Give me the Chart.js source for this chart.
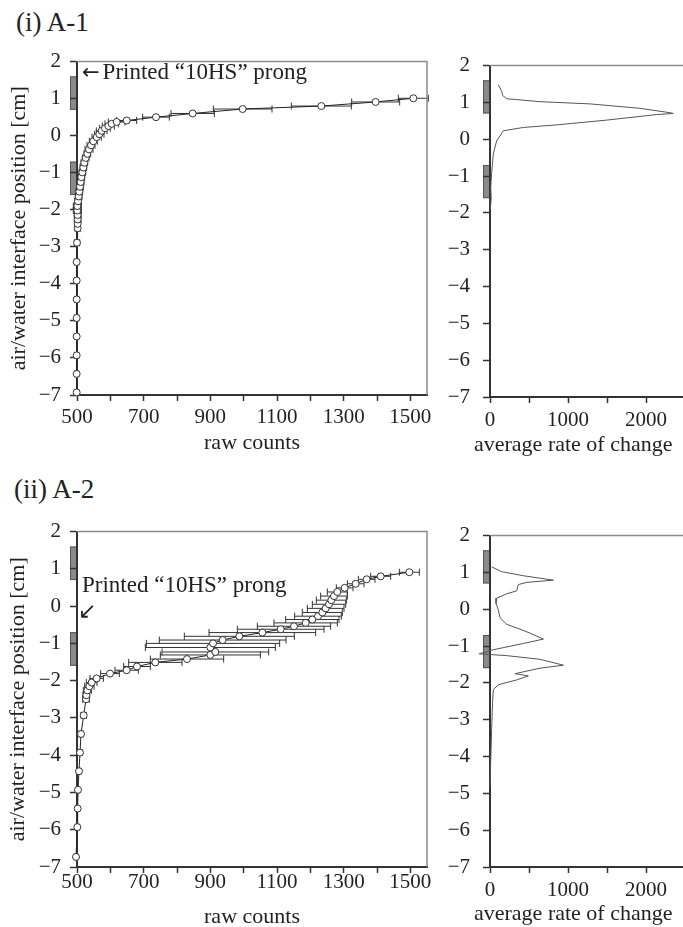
<!DOCTYPE html>
<html>
<head>
<meta charset="utf-8">
<script src="https://cdn.jsdelivr.net/npm/chart.js@4.4.1/dist/chart.umd.min.js"></script>
<style>
  html, body { margin: 0; padding: 0; background: #fff; }
  body { position: relative; width: 683px; height: 927px; overflow: hidden; font-family: 'Liberation Serif', 'Times New Roman', serif; color: #222; }
  canvas { position: absolute; }
  .lbl { position: absolute; white-space: nowrap; line-height: 1; z-index: 2; }
  .arr { font-family: 'DejaVu Sans', sans-serif; font-size: 21px; }
</style>
</head>
<body>
<canvas id="a1" width="440" height="430" style="left:0;top:40px"></canvas>
<canvas id="a1r" width="260" height="430" style="left:440px;top:40px"></canvas>
<canvas id="a2" width="440" height="430" style="left:0;top:510px"></canvas>
<canvas id="a2r" width="260" height="430" style="left:440px;top:510px"></canvas>

<div class="lbl" style="left:16px;top:9px;font-size:27px">(i) A-1</div>
<div class="lbl" style="left:82px;top:60px;font-size:23px"><span class="arr" style="margin-right:3px">←</span>Printed “10HS” prong</div>
<div class="lbl" style="left:474px;top:433px;font-size:22px">average rate of change</div>
<div class="lbl" style="left:14px;top:476px;font-size:27px">(ii) A-2</div>
<div class="lbl" style="left:82px;top:573px;font-size:23px">Printed “10HS” prong</div>
<div class="lbl arr" style="left:78px;top:600px;font-size:22px">↙</div>
<div class="lbl" style="left:474px;top:902px;font-size:22px">average rate of change</div>

<script>
const FONT = "'Liberation Serif', 'Times New Roman', serif";

// (i) A-1 : raw counts vs air/water interface position
const a1Pos = [-6.93, -6.43, -5.93, -5.42, -4.92, -4.42, -3.91, -3.41, -2.89,
  -2.50, -2.38, -2.26, -2.14, -2.02, -1.90,
  -1.77, -1.64, -1.51, -1.38, -1.25, -1.12, -0.99,
  -0.86, -0.73, -0.60, -0.49, -0.37, -0.26, -0.15, -0.04,
  0.04, 0.13, 0.20, 0.26, 0.32, 0.37, 0.41,
  0.50, 0.60, 0.72, 0.80, 0.91, 1.01];
const a1Counts = [499, 499, 499, 499, 499, 499, 499, 499, 500,
  502, 502, 502, 502, 501, 501,
  503, 505, 507, 509, 511, 513, 516,
  519, 522, 526, 531, 536, 542, 549, 559,
  567, 574, 584, 594, 604, 619, 649,
  737, 847, 997, 1233, 1396, 1509];
const a1Err = [6, 6, 6, 6, 6, 6, 6, 6, 8,
  8, 8, 10, 10, 12, 12,
  10, 10, 10, 10, 10, 10, 10,
  10, 10, 10, 10, 12, 12, 12, 14,
  14, 16, 16, 18, 20, 25, 30,
  40, 65, 88, 90, 72, 45];

// (i) A-1 : average rate of change
const a1RatePos = [1.48, 1.30, 1.19, 1.10, 1.02, 0.96, 0.84, 0.72, 0.70, 0.67, 0.52, 0.39, 0.32, 0.23, 0.09, -0.04, -0.39, -0.91, -1.30, -1.60, -1.90];
const a1Rate = [107, 150, 162, 214, 641, 1282, 1923, 2308, 2350, 2137, 1496, 855, 427, 171, 128, 86, 43, 21, 10, 15, 5];

// (ii) A-2 : raw counts vs air/water interface position
const a2Pos = [-6.73, -5.93, -5.43, -4.93, -4.43, -3.93, -3.43, -2.93,
  -2.50, -2.39, -2.26, -2.15, -2.05, -1.94, -1.81, -1.72, -1.62,
  -1.51, -1.42, -1.31, -1.23, -1.11, -1.00, -0.91, -0.81,
  -0.71, -0.62, -0.54, -0.45, -0.36, -0.27, -0.17, -0.06,
  0.05, 0.16, 0.27, 0.38, 0.49, 0.60, 0.72, 0.80, 0.91];
const a2Counts = [497, 501, 502, 503, 506, 509, 512, 520,
  527, 528, 531, 537, 544, 559, 599, 649, 680,
  735, 830, 900, 915, 900, 908, 937, 987,
  1056, 1111, 1151, 1186, 1206, 1223, 1236, 1246,
  1256, 1263, 1271, 1281, 1303, 1336, 1369, 1411, 1497];
const a2Err = [5, 5, 5, 5, 6, 6, 6, 8,
  10, 10, 12, 14, 16, 20, 28, 35, 40,
  80, 110, 150, 160, 195, 200, 190, 165,
  160, 130, 110, 95, 80, 70, 60, 55,
  50, 45, 40, 30, 25, 25, 25, 30, 30];

// (ii) A-2 : average rate of change
const a2RatePos = [1.15, 1.02, 0.91, 0.79, 0.73, 0.67, 0.50, 0.42, 0.30, 0.16, -0.02, -0.23, -0.41, -0.54, -0.65, -0.81, -0.93, -1.10, -1.21, -1.26, -1.36, -1.52, -1.60, -1.75, -1.81, -1.92, -2.05, -2.18, -2.49, -3.26, -4.82];
const a2Rate = [22, 150, 428, 813, 472, 363, 342, 214, 86, 77, 107, 128, 214, 385, 514, 685, 428, 43, -137, 214, 642, 941, 642, 321, 492, 342, 107, 43, 34, 21, 0];

// prong positions (grey blocks along the y axis)
const prongLow = [0.7, -1.6];
const prongHigh = [1.6, -0.7];

// tick labels
const posTicks = [-7, -6, -5, -4, -3, -2, -1, 0, 1, 2];
const countTickLabels = [500, 700, 900, 1100, 1300, 1500];
const rateTickLabels = [0, 1000, 2000];

function fmt(v) {
  return v < 0 ? '\u2212' + Math.abs(v) : String(v);
}

const framePlugin = {
  id: 'frame',
  beforeDraw(chart) {
    const {ctx, chartArea: a, scales: {y}} = chart;
    ctx.save();
    ctx.fillStyle = '#8a8a8a';
    ctx.strokeStyle = '#555';
    ctx.lineWidth = 1;
    for (let i = 0; i < prongLow.length; i++) {
      const t = y.getPixelForValue(prongHigh[i]);
      const b = y.getPixelForValue(prongLow[i]);
      ctx.fillRect(a.left - 7, t, 7, b - t);
      ctx.strokeRect(a.left - 7 + 0.5, t + 0.5, 6, b - t - 1);
    }
    ctx.restore();
  },
  beforeDatasetsDraw(chart) {
    const {ctx, scales: {x, y}} = chart;
    ctx.save();
    ctx.strokeStyle = '#333';
    ctx.lineWidth = 1;
    chart.data.datasets.forEach(ds => {
      if (!ds.errors) return;
      ds.data.forEach((p, i) => {
        const e = ds.errors[i];
        const x0 = x.getPixelForValue(p.x - e);
        const x1 = x.getPixelForValue(p.x + e);
        const yy = y.getPixelForValue(p.y);
        ctx.beginPath();
        ctx.moveTo(x0, yy); ctx.lineTo(x1, yy);
        ctx.moveTo(x0, yy - 3.5); ctx.lineTo(x0, yy + 3.5);
        ctx.moveTo(x1, yy - 3.5); ctx.lineTo(x1, yy + 3.5);
        ctx.stroke();
      });
    });
    ctx.restore();
  },
  afterDraw(chart) {
    const {ctx, chartArea: a} = chart;
    ctx.save();
    ctx.strokeStyle = '#8c8c8c';
    ctx.lineWidth = 1.5;
    ctx.beginPath();
    ctx.moveTo(a.left, a.top);
    ctx.lineTo(a.right, a.top);
    ctx.lineTo(a.right, a.bottom);
    ctx.stroke();
    ctx.restore();
  }
};

function yScale(width, pad, titlePad) {
  return {
    type: 'linear',
    min: -7,
    max: 2,
    afterBuildTicks: s => { s.ticks = posTicks.map(v => ({value: v})); },
    ticks: {
      padding: pad,
      color: '#222',
      font: {family: FONT, size: 21},
      callback: v => fmt(v)
    },
    grid: {drawOnChartArea: false, drawTicks: true, tickLength: 7, color: '#333', tickWidth: 1.5},
    border: {color: '#333', width: 2},
    title: titlePad == null ? {display: false} : {
      display: true,
      text: 'air/water interface position [cm]',
      color: '#222',
      font: {family: FONT, size: 22},
      padding: {top: titlePad, bottom: 0}
    },
    afterFit: s => { s.width = width; }
  };
}

function xScale(kind, height, labelPad, titlePad) {
  const raw = kind === 'raw';
  const labels = raw ? countTickLabels : rateTickLabels;
  return {
    type: 'linear',
    min: raw ? 500 : 0,
    max: raw ? 1550 : 2500,
    ticks: {
      stepSize: raw ? 100 : 500,
      includeBounds: false,
      autoSkip: false,
      maxRotation: 0,
      padding: labelPad,
      color: '#222',
      font: {family: FONT, size: 21},
      callback: v => labels.includes(v) ? String(v) : ''
    },
    grid: {drawOnChartArea: false, drawTicks: true, tickLength: 6, color: '#333', tickWidth: 1.5},
    border: {color: '#333', width: 2},
    // the rate panels get their title as page text, centred like the original
    title: raw ? {
      display: true,
      text: 'raw counts',
      color: '#222',
      font: {family: FONT, size: 22},
      padding: {top: 0, bottom: titlePad}
    } : {display: false},
    afterFit: s => { s.height = height; }
  };
}

function makeChart(id, dataset, padding, x, y) {
  return new Chart(document.getElementById(id), {
    type: 'scatter',
    data: {datasets: [dataset]},
    options: {
      responsive: false,
      animation: false,
      devicePixelRatio: 1,
      layout: {padding: padding},
      plugins: {legend: {display: false}, tooltip: {enabled: false}},
      scales: {x: x, y: y}
    },
    plugins: [framePlugin]
  });
}

function countSet(counts, pos, err) {
  return {
    data: counts.map((c, i) => ({x: c, y: pos[i]})),
    errors: err,
    showLine: true,
    borderColor: '#222',
    borderWidth: 1,
    pointRadius: 3.5,
    pointBackgroundColor: '#fff',
    pointBorderColor: '#333',
    pointBorderWidth: 1,
    clip: false
  };
}

function rateSet(rate, pos) {
  return {
    data: rate.map((r, i) => ({x: r, y: pos[i]})),
    showLine: true,
    borderColor: '#555',
    borderWidth: 1,
    pointRadius: 0,
    clip: false
  };
}

makeChart('a1', countSet(a1Counts, a1Pos, a1Err),
  {top: 8, right: 13, left: 0, bottom: 0},
  xScale('raw', 75, 4, 14), yScale(77, 9, 6));
makeChart('a1r', rateSet(a1Rate, a1RatePos),
  {top: 8, right: 15, left: 0, bottom: 0},
  xScale('rate', 73, 5, 11), yScale(50, 13, null));
makeChart('a2', countSet(a2Counts, a2Pos, a2Err),
  {top: 7, right: 13, left: 0, bottom: 0},
  xScale('raw', 73, -3, 10), yScale(77, 9, 5));
makeChart('a2r', rateSet(a2Rate, a2RatePos),
  {top: 7, right: 15, left: 0, bottom: 0},
  xScale('rate', 73, 5, 10), yScale(50, 13, null));
</script>
</body>
</html>
